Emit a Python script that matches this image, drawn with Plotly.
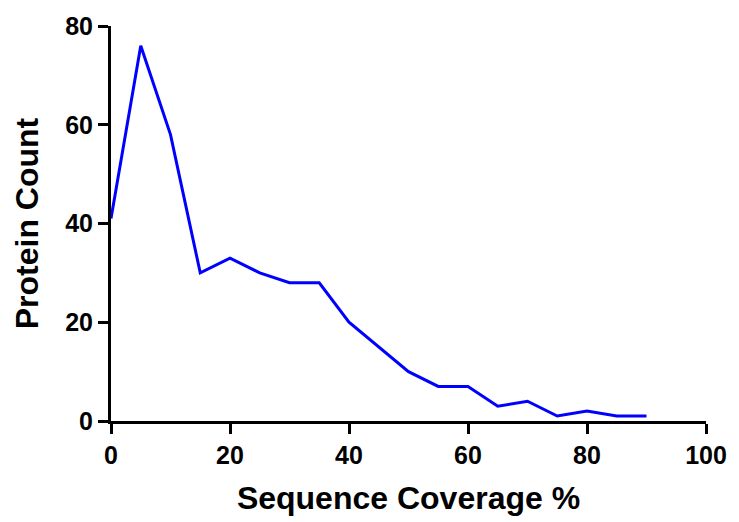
import plotly.graph_objects as go

coverage = [0, 5, 10, 15, 20, 25, 30, 35, 40, 45, 50, 55, 60, 65, 70, 75, 80, 85, 90]
protein_count = [41, 76, 58, 30, 33, 30, 28, 28, 20, 15, 10, 7, 7, 3, 4, 1, 2, 1, 1]
x_ticks = [0, 20, 40, 60, 80, 100]
y_ticks = [0, 20, 40, 60, 80]

FONT = "Arial, 'Liberation Sans', sans-serif"

fig = go.Figure()
fig.add_trace(go.Scatter(
    x=coverage, y=protein_count, mode="lines",
    line=dict(color="#0000FF", width=3),
    showlegend=False, cliponaxis=False,
))

axis_common = dict(
    showgrid=False, zeroline=False,
    showline=True, linecolor="black", linewidth=3,
    ticks="outside", ticklen=10, tickwidth=3, tickcolor="black",
    tickfont=dict(family=FONT, size=25, color="black", weight="bold"),
)

fig.update_layout(
    width=739, height=522,
    margin=dict(l=111, r=29, t=22, b=99),
    paper_bgcolor="white", plot_bgcolor="white",
    xaxis=dict(range=[0, 100], tickvals=x_ticks, ticktext=[str(v) for v in x_ticks],
               title=dict(text="Sequence Coverage %", standoff=19,
                          font=dict(family=FONT, size=32, color="black", weight="bold")),
               **axis_common),
    yaxis=dict(range=[0, 80], tickvals=y_ticks, ticktext=[str(v) for v in y_ticks],
               title=dict(text="Protein Count", standoff=17,
                          font=dict(family=FONT, size=32, color="black", weight="bold")),
               **axis_common),
)

fig.write_html("out.html")
